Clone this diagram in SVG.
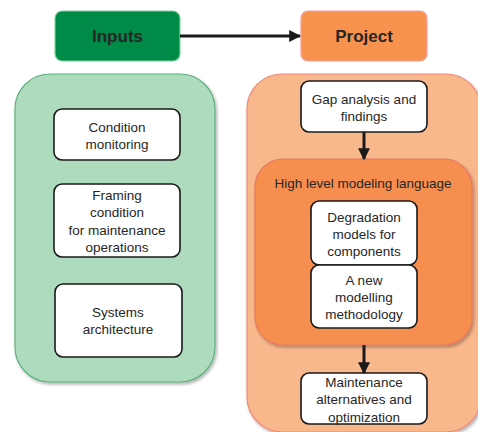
<svg xmlns="http://www.w3.org/2000/svg" width="478" height="432" viewBox="0 0 478 432">
<style>
.t{font-family:"Liberation Sans",Arial,sans-serif;font-size:13.5px;fill:#262626;text-anchor:middle}
.h{font-family:"Liberation Sans",Arial,sans-serif;font-size:17px;font-weight:bold;fill:#262626;text-anchor:middle}
.w{fill:#fff;stroke:#1a1a1a;stroke-width:1.6}
.c{stroke:#1a1a1a;stroke-width:3;fill:none}
</style>
<defs>
<filter id="sh" x="-10%" y="-10%" width="130%" height="130%"><feDropShadow dx="1.5" dy="2" stdDeviation="1.5" flood-color="#000" flood-opacity="0.3"/></filter>
<marker id="ah" viewBox="0 0 10 10" refX="9" refY="5" markerWidth="4" markerHeight="4" orient="auto" markerUnits="strokeWidth"><path d="M0,0L10,5L0,10z" fill="#1a1a1a"/></marker>
</defs>
<rect width="478" height="432" fill="#fff"/>
<g id="inputs"><rect x="55" y="11" width="125" height="50" rx="7" fill="#008a47" stroke="#7fd3a0" stroke-width="1.2"/><text class="h" x="117.5" y="42">Inputs</text></g>
<g id="project"><rect x="301" y="11" width="126" height="50" rx="7" fill="#f7934f" stroke="#f2a0a0" stroke-width="1.2"/><text class="h" x="364" y="42">Project</text></g>
<g id="inputs-panel"><rect x="15" y="74" width="200" height="308" rx="35" fill="#aedbbd" stroke="#5cb07a" stroke-width="1.2" filter="url(#sh)"/></g>
<g id="project-panel"><rect x="247" y="74" width="234" height="358" rx="35" fill="#f9b88c" stroke="#ef8a7a" stroke-width="1.2" filter="url(#sh)"/></g>
<g id="hlml"><rect x="255" y="159" width="217" height="186" rx="28" fill="#f58e50" stroke="#e57b60" stroke-width="1.2" filter="url(#sh)"/><text class="t" x="363" y="188">High level modeling language</text></g>
<g id="cond"><rect class="w" x="54" y="109" width="126" height="51" rx="8"/><text class="t" x="117" y="132">Condition</text><text class="t" x="117" y="149">monitoring</text></g>
<g id="framing"><rect class="w" x="54" y="184" width="126" height="73" rx="8"/><text class="t" x="117" y="200">Framing</text><text class="t" x="117" y="217">condition</text><text class="t" x="117" y="235">for maintenance</text><text class="t" x="117" y="252">operations</text></g>
<g id="systems"><rect class="w" x="55" y="284" width="127" height="73" rx="8"/><text class="t" x="118" y="317">Systems</text><text class="t" x="118" y="334">architecture</text></g>
<g id="gap"><rect class="w" x="301" y="81" width="126" height="51" rx="8"/><text class="t" x="364" y="104">Gap analysis and</text><text class="t" x="364" y="121">findings</text></g>
<g id="degr"><rect class="w" x="311" y="201" width="106" height="64" rx="8"/><text class="t" x="364" y="222">Degradation</text><text class="t" x="364" y="239">models for</text><text class="t" x="364" y="256">components</text></g>
<g id="newm"><rect class="w" x="311" y="265" width="106" height="63" rx="8"/><text class="t" x="364" y="285">A new</text><text class="t" x="364" y="302">modelling</text><text class="t" x="364" y="319">methodology</text></g>
<g id="maint"><rect class="w" x="301" y="373" width="126" height="51" rx="8"/><text class="t" x="364" y="387">Maintenance</text><text class="t" x="364" y="404">alternatives and</text><text class="t" x="364" y="422">optimization</text></g>
<g id="connectors">
<line class="c" x1="180" y1="36" x2="300" y2="36" marker-end="url(#ah)"/>
<line class="c" x1="364" y1="132" x2="364" y2="159" marker-end="url(#ah)"/>
<line class="c" x1="364" y1="345" x2="364" y2="373" marker-end="url(#ah)"/>
</g>
</svg>
